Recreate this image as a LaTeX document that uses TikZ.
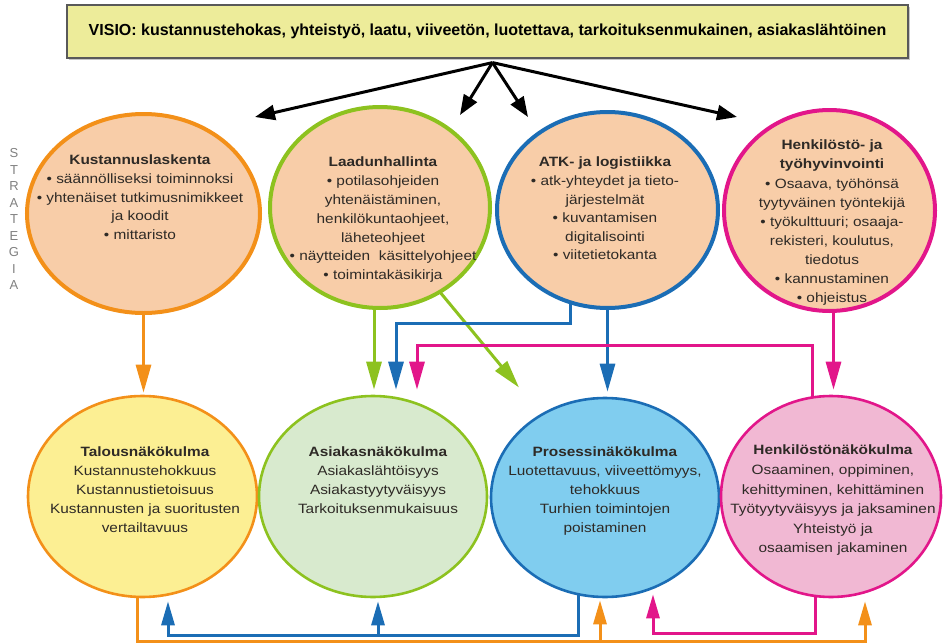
\documentclass[tikz,border=0pt]{standalone}
\usepackage{fontspec}
\setmainfont{Liberation Sans}[FakeStretch=1.14]
\newfontfamily\visfont{Liberation Sans}
\usetikzlibrary{shapes.geometric,arrows.meta,shadows,calc}
\pgfdeclarelayer{bg}
\pgfsetlayers{bg,main}
\definecolor{cOr}{HTML}{F39019}
\definecolor{cGr}{HTML}{8DC21F}
\definecolor{cBl}{HTML}{1B6DB5}
\definecolor{cMa}{HTML}{E2168A}
\definecolor{peach}{HTML}{F8CDA8}
\definecolor{fYe}{HTML}{FCEF93}
\definecolor{fGr}{HTML}{D8EACE}
\definecolor{fBl}{HTML}{80CDEF}
\definecolor{fPi}{HTML}{F1B8D3}
\definecolor{boxc}{HTML}{EDEC9A}
\definecolor{txtc}{HTML}{2E2A26}
\begin{document}
\begin{tikzpicture}[x=1pt,y=-1pt,
  topc/.style={ellipse, draw, line width=4pt, fill=peach, inner sep=0pt},
  botc/.style={ellipse, draw, line width=2.6pt, inner sep=0pt},
  ctext/.style={align=center, anchor=base, inner sep=0pt, text=txtc, font=\fontsize{13.5}{#1}\selectfont},
  ctext/.default=18.6,
  conn/.style={line width=3pt, -{Triangle[length=28pt,width=15pt]}},
  bconn/.style={line width=3pt, -{Triangle[length=24pt,width=13pt]}},
  blk/.style={line width=3pt, black, -{Triangle[length=20pt,width=15pt]}}
]
\useasboundingbox (0,0) rectangle (946,643);

% vision box
\node[draw=black!65, line width=1.2pt, fill=boxc, minimum width=841pt, minimum height=53pt,
      drop shadow={shadow xshift=2pt, shadow yshift=-2pt, opacity=0.45}, inner sep=0pt,
      font=\visfont\bfseries\fontsize{16}{18}\selectfont, text=black] (v) at (487.5,31.5)
  {VISIO: kustannustehokas, yhteistyö, laatu, viiveetön, luotettava, tarkoituksenmukainen, asiakaslähtöinen};

% strategy label
\node[align=center, inner sep=0pt, text=black!50, font=\visfont\fontsize{13}{16.5}\selectfont] (strat) at (14,219)
  {S\\T\\R\\A\\T\\E\\G\\I\\A};

% top circles
\node[topc, draw=cOr, minimum width=233pt, minimum height=199pt] (t1) at (143.5,213.5) {};
\node[topc, draw=cGr, minimum width=220pt, minimum height=201pt] (t2) at (380,207.5) {};
\node[topc, draw=cBl, minimum width=221pt, minimum height=196pt] (t3) at (607.5,210) {};
\node[topc, draw=cMa, minimum width=211pt, minimum height=201pt] (t4) at (829.5,210.5) {};

% bottom circles
\node[botc, draw=cOr, fill=fYe, minimum width=229pt, minimum height=201pt] (b1) at (142.5,496.5) {};
\node[botc, draw=cGr, fill=fGr, minimum width=228pt, minimum height=201pt] (b2) at (373,496.5) {};
\node[botc, draw=cBl, fill=fBl, minimum width=228pt, minimum height=199pt] (b3) at (605,497.5) {};
\node[botc, draw=cMa, fill=fPi, minimum width=220pt, minimum height=201pt] (b4) at (831,496.5) {};

% texts top (anchored at baseline of last line)
\node[ctext] (t1txt) at (140,239.2) {\textbf{Kustannuslaskenta}\\• säännölliseksi toiminnoksi\\• yhtenäiset tutkimusnimikkeet\\ja koodit\\• mittaristo};
\node[ctext=18.8] (t2txt) at (383,279.6) {\textbf{Laadunhallinta}\\• potilasohjeiden\\yhtenäistäminen,\\henkilökuntaohjeet,\\läheteohjeet\\• näytteiden\ \ käsittelyohjeet\\• toimintakäsikirja};
\node[ctext] (t3txt) at (605,259.8) {\textbf{ATK- ja logistiikka}\\• atk-yhteydet ja tieto-\\järjestelmät\\• kuvantamisen\\digitalisointi\\• viitetietokanta};
\node[ctext=19.1] (t4txt) at (832,302.6) {\textbf{Henkilöstö- ja}\\\textbf{työhyvinvointi}\\• Osaava, työhönsä\\tyytyväinen työntekijä\\• työkulttuuri; osaaja-\\rekisteri, koulutus,\\tiedotus\\• kannustaminen\\• ohjeistus};

% texts bottom
\node[ctext=19] (b1txt) at (145,532.8) {\textbf{Talousnäkökulma}\\Kustannustehokkuus\\Kustannustietoisuus\\Kustannusten ja suoritusten\\vertailtavuus};
\node[ctext=19] (b2txt) at (378,513.8) {\textbf{Asiakasnäkökulma}\\Asiakaslähtöisyys\\Asiakastyytyväisyys\\Tarkoituksenmukaisuus};
\node[ctext=19] (b3txt) at (605,532.8) {\textbf{Prosessinäkökulma}\\Luotettavuus, viiveettömyys,\\tehokkuus\\Turhien toimintojen\\poistaminen};
\node[ctext=19.6] (b4txt) at (833,552.8) {\textbf{Henkilöstönäkökulma}\\Osaaminen, oppiminen,\\kehittyminen, kehittäminen\\Työtyytyväisyys ja jaksaminen\\Yhteistyö ja\\osaamisen jakaminen};

% arrow targets from vision
\coordinate (a1) at (255,117);
\coordinate (a2) at (460,115);
\coordinate (a3) at (528,117);
\coordinate (a4) at (737,117);

\begin{pgfonlayer}{bg}
  % vision arrows
  \draw[blk] ($(v.south)+(5,4)$) -- (a1);
  \draw[blk] ($(v.south)+(5,4)$) -- (a2);
  \draw[blk] ($(v.south)+(5,4)$) -- (a3);
  \draw[blk] ($(v.south)+(5,4)$) -- (a4);

  % middle connectors
  \draw[conn, cOr] (t1.center) -- ($(t1.center |- b1.north)+(0,-2)$);
  \draw[conn, cGr] ($(t2.center)+(-6,0)$) -- ($(b2.north)+(1,-5)$);
  \draw[conn, cGr] ($(t2.center)+(45,66.5)$) -- ($(b3.center)+(-86,-110)$);
  \draw[conn, cBl] ($(t3.center)+(-37,0)$) |- ($(b2.north)+(23,-71)$) -- ($(b2.north)+(23,-5)$);
  \draw[conn, cBl] (t3.center) -- ($(t3.center |- b3.north)+(0,-5)$);
  \draw[conn, cMa] ($(b4.center)+(-19,0)$) |- ($(b2.north)+(44,-49)$) -- ($(b2.north)+(44,-5)$);
  \draw[conn, cMa] ($(t4.center)+(4,0)$) -- ($(t4.center |- b4.north)+(4,-5)$);

  % bottom connectors
  \draw[bconn, cOr] ($(b1.center)+(-5.5,0)$) |- ($(b4.south)+(34,43)$) -- ($(b4.south)+(34,3)$);
  \draw[bconn, cOr] ($(b3.south)+(-5,43)$) -- ($(b3.south)+(-5,2)$);
  \draw[bconn, cBl] ($(b3.center)+(-27,0)$) |- ($(b1.south)+(25.5,37)$) -- ($(b1.south)+(25.5,3)$);
  \draw[bconn, cBl] ($(b2.south)+(5,37)$) -- ($(b2.south)+(5,3)$);
  \draw[bconn, cMa] ($(b4.center)+(-16,0)$) |- ($(b3.south)+(48,35)$) -- ($(b3.south)+(48,-4)$);
\end{pgfonlayer}
\end{tikzpicture}
\end{document}
